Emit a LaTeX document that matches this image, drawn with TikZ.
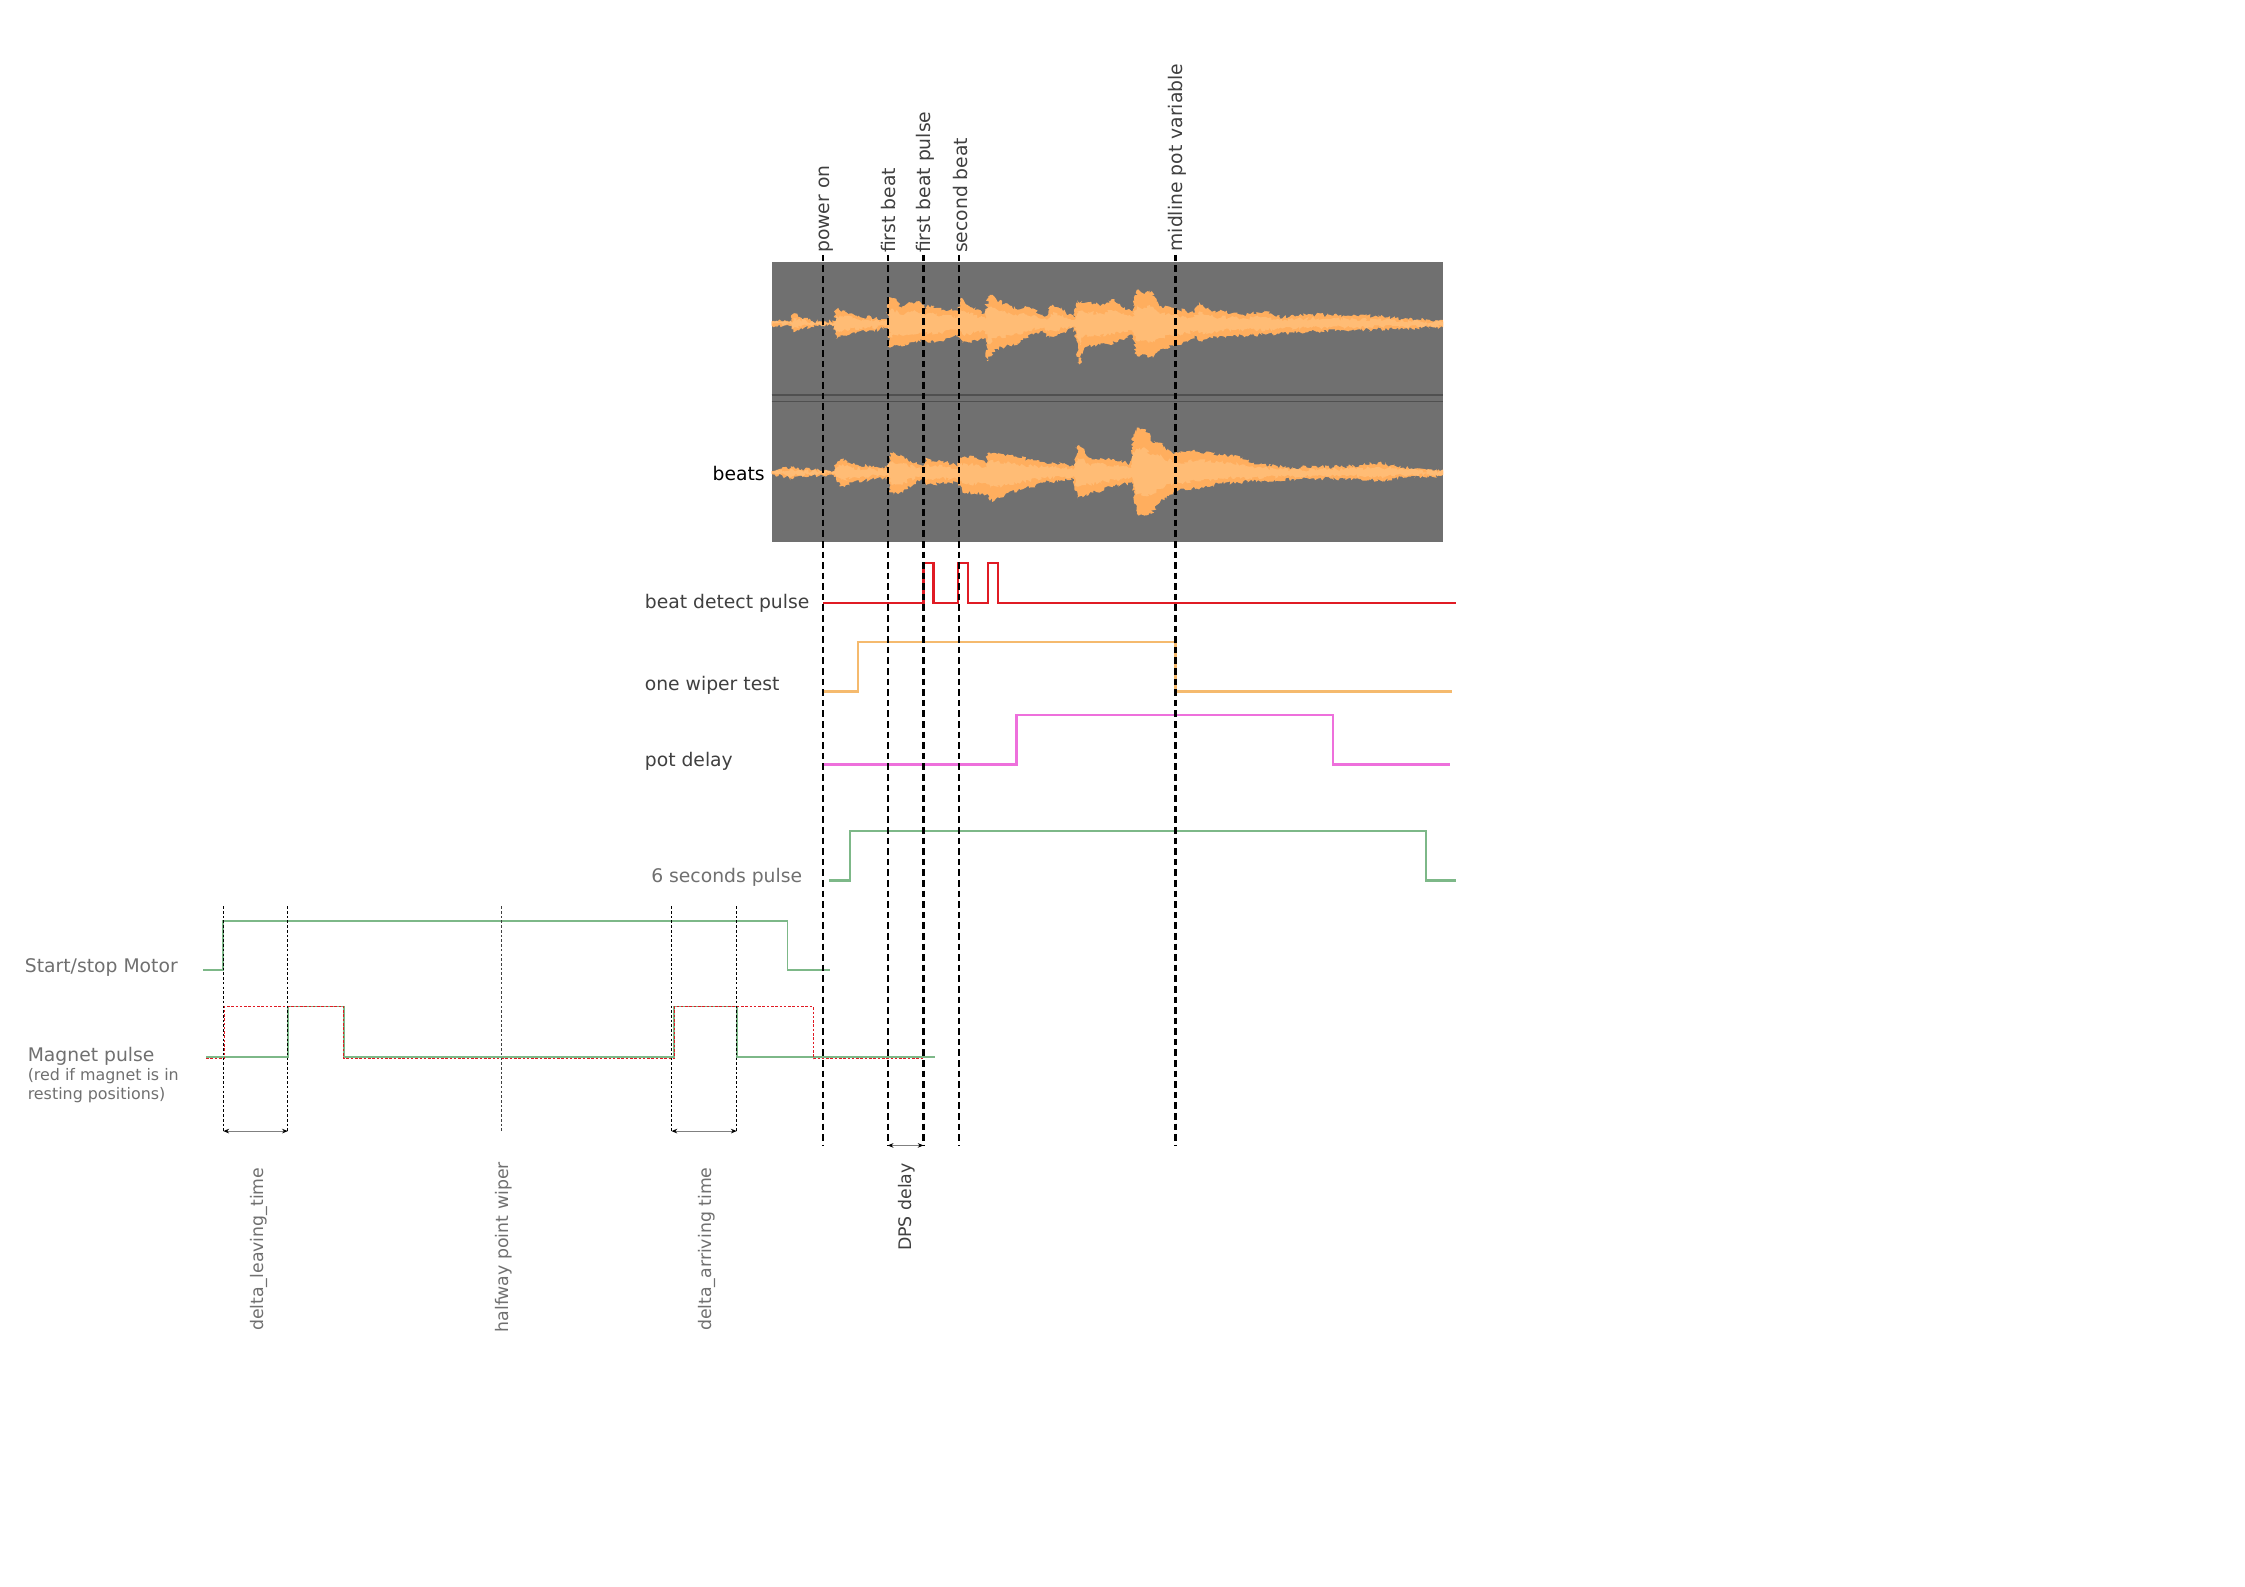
\documentclass[tikz,border=0pt]{standalone}
\usepackage{fontspec}
\setmainfont{DejaVu Sans}
\usetikzlibrary{arrows.meta,decorations.pathmorphing}
\definecolor{wavebg}{HTML}{707070}
\definecolor{waveline}{HTML}{505050}
\definecolor{waveout}{HTML}{FFAE5E}
\definecolor{wavein}{HTML}{FFBC75}
\definecolor{sigred}{HTML}{E01B24}
\definecolor{sigorange}{HTML}{F5BA6E}
\definecolor{sigpink}{HTML}{EE70DC}
\definecolor{siggreen}{HTML}{7DB888}
\definecolor{darktext}{HTML}{404040}
\definecolor{midtext}{HTML}{707070}
\tikzset{
  lab/.style={font=\fontsize{6.55pt}{8pt}\selectfont,inner sep=0pt,anchor=west,text=darktext},
  labgrey/.style={lab,text=midtext},
  smalllab/.style={labgrey,font=\fontsize{5.55pt}{7pt}\selectfont},
  vlab/.style={lab,rotate=90},
  vlabgrey/.style={labgrey,rotate=90,font=\fontsize{6.05pt}{8pt}\selectfont},
  vlabdps/.style={vlab,font=\fontsize{6.05pt}{8pt}\selectfont},
  eventline/.style={draw=black,line width=.75pt,dash pattern=on 2.3pt off 1.4pt},
  guideline/.style={draw=black,line width=.33pt,dash pattern=on .9pt off .75pt},
  sig/.style={line width=.78pt,line join=miter},
  thinsig/.style={draw=siggreen,line width=.65pt},
  reddash/.style={draw=sigred,line width=.35pt,dash pattern=on .9pt off .6pt},
  span/.style={draw=gray,line width=.4pt,{Stealth[length=2pt,width=1.6pt,black]}-{Stealth[length=2pt,width=1.6pt,black]}},
  wave/.style={decorate,decoration={random steps,segment length=.6pt,amplitude=.7pt}},
}
\newcommand{\waveA}{(25,-7)--(68,-7)--(72,-30)--(90,-17)--(110,-9)--(135,-5)--(162,-7)--(165,-42)--(180,-40)--(210,-24)--(278,-12)--(280,-80)--(290,-77)--(310,-47)--(330,-64)--(350,-62)--(358,-42)--(365,-57)--(395,-42)--(430,-37)--(435,-74)--(450,-57)--(490,-27)--(495,-82)--(505,-87)--(520,-67)--(560,-42)--(580,-52)--(610,-27)--(625,-24)--(632,-54)--(650,-47)--(683,-19)--(690,-70)--(705,-62)--(750,-57)--(765,-74)--(785,-52)--(810,-37)--(820,-102)--(835,-87)--(848,-102)--(870,-52)--(900,-47)--(945,-30)--(955,-65)--(980,-40)--(1050,-27)--(1100,-37)--(1130,-20)--(1200,-27)--(1280,-24)--(1340,-24)--(1400,-14)--(1487,-7)--(1487,10)--(1400,16)--(1300,18)--(1200,23)--(1100,33)--(1000,38)--(955,53)--(950,38)--(900,68)--(870,78)--(855,103)--(835,93)--(820,98)--(810,33)--(760,63)--(705,68)--(695,123)--(683,13)--(630,43)--(610,23)--(560,58)--(510,78)--(495,113)--(490,43)--(440,58)--(430,33)--(380,58)--(358,48)--(340,58)--(300,66)--(282,73)--(278,13)--(185,33)--(165,46)--(162,6)--(135,6)--(90,13)--(72,26)--(68,6)--(25,6)--cycle}
\newcommand{\waveB}{(25,-5)--(40,-10)--(70,-17)--(90,-10)--(135,-5)--(162,-5)--(165,-25)--(175,-40)--(200,-25)--(278,-12)--(282,-60)--(300,-50)--(355,-20)--(360,-42)--(430,-22)--(435,-45)--(470,-45)--(490,-30)--(497,-60)--(530,-55)--(560,-45)--(620,-30)--(683,-20)--(690,-80)--(700,-75)--(715,-45)--(770,-40)--(808,-25)--(812,-115)--(825,-135)--(840,-130)--(850,-95)--(870,-90)--(900,-55)--(950,-65)--(1000,-55)--(1050,-45)--(1070,-28)--(1150,-15)--(1280,-18)--(1345,-30)--(1400,-15)--(1487,-6)--(1487,10)--(1400,16)--(1345,25)--(1280,18)--(1200,18)--(1100,25)--(1000,33)--(950,48)--(900,58)--(870,90)--(850,125)--(820,125)--(810,30)--(770,42)--(700,70)--(690,78)--(683,20)--(620,30)--(560,55)--(500,85)--(495,65)--(440,60)--(430,30)--(360,35)--(350,20)--(300,65)--(282,60)--(278,15)--(200,30)--(175,42)--(165,20)--(162,5)--(80,12)--(70,20)--(40,8)--(25,5)--cycle}
\begin{document}
\begin{tikzpicture}[x=.5pt,y=-.5pt]
\pgfmathsetseed{7}
\useasboundingbox (0,0) rectangle (1568,1108.4);
\fill[white] (0,0) rectangle (1568,1108.4);
% waveform panel
\fill[wavebg] (539,183) rectangle (1008,378.5);
\begin{scope}
\clip (539,183) rectangle (1008,378.5);
\begin{scope}[shift={(531,226)},x=.1604pt,y=-.1158pt]
\fill[waveout,wave] \waveA;
\begin{scope}[yscale=.55]\fill[wavein,wave] \waveA;\end{scope}
\end{scope}
\begin{scope}[shift={(531,330)},x=.1604pt,y=-.1158pt]
\fill[waveout,wave] \waveB;
\begin{scope}[yscale=.55]\fill[wavein,wave] \waveB;\end{scope}
\end{scope}
\end{scope}
\draw[waveline,line width=.5pt] (539,276) -- (1008,276) (539,280.5) -- (1008,280.5);
% upper signals
\draw[sig,sigred] (575,421) -| (645,393) -| (652,421) -| (669,393) -| (676,421) -| (690,393) -| (697,421) -- (1017,421);
\draw[sig,sigorange] (575,483) -| (599,448.5) -| (821,483) -- (1014,483);
\draw[sig,sigpink] (575,534) -| (710,499.5) -| (931,534) -- (1013,534);
\draw[sig,siggreen] (579,615) -| (593.5,580.5) -| (996,615) -- (1017,615);
% lower signals
\draw[thinsig] (142,677.5) -| (156,643) -| (550,677.5) -- (580,677.5);
\draw[thinsig] (144,738.5) -| (201,703) -| (240,738.5) -| (471,703) -| (514.5,738.5) -- (653,738.5);
\draw[reddash] (144,739.5) -| (156.5,703) -| (240,739.5) -| (471,703) -| (568,739.5) -- (645,739.5);
% event lines
\coordinate (pt1) at (575,178);\coordinate (pb1) at (575,800);
\coordinate (pt2) at (620,178);\coordinate (pb2) at (620,800);
\coordinate (pt3) at (645,178);\coordinate (pb3) at (645,800);
\coordinate (pt4) at (669.5,178);\coordinate (pb4) at (669.5,800);
\coordinate (pt5) at (821,178);\coordinate (pb5) at (821,800);
\draw[eventline] (pt1) -- (pb1);
\draw[eventline] (pt2) -- (pb2);
\draw[eventline] (pt3) -- (pb3);
\draw[eventline] (pt4) -- (pb4);
\draw[eventline] (pt5) -- (pb5);
% guide lines
\coordinate (gt1) at (156,633);\coordinate (gb1) at (156,790);
\coordinate (gt2) at (201,633);\coordinate (gb2) at (201,790);
\coordinate (gt3) at (350,633);\coordinate (gb3) at (350,790);
\coordinate (gt4) at (469,633);\coordinate (gb4) at (469,790);
\coordinate (gt5) at (514.5,633);\coordinate (gb5) at (514.5,790);
\draw[guideline] (gt1) -- (gb1);
\draw[guideline] (gt2) -- (gb2);
\draw[guideline,draw=darktext] (gt3) -- (gb3);
\draw[guideline] (gt4) -- (gb4);
\draw[guideline] (gt5) -- (gb5);
\draw[span] (gb1) -- (gb2);
\draw[span] (gb4) -- (gb5);
\draw[span,line width=.3pt] (pb2) -- (pb3);
% labels
\node[vlab] (lpower) at (577,177) {power on};
\node[vlab] (lfirst) at (620.5,177) {first beat};
\node[vlab] (lfpulse) at (646,177) {first beat pulse};
\node[vlab] (lsecond) at (670.5,177) {second beat};
\node[vlab] (lmid) at (822,176) {midline pot variable};
\node[lab,anchor=east,text=black] (lbeats) at (534.5,330.5) {beats};
\node[lab] (lbdp) at (450,421.5) {beat detect pulse};
\node[lab] (lowt) at (450,478.5) {one wiper test};
\node[lab] (lpot) at (450,532) {pot delay};
\node[labgrey] (lsix) at (454.5,613) {6 seconds pulse};
\node[labgrey] (lmotor) at (17,676) {Start/stop Motor};
\node[labgrey] (lmag) at (19,737.5) {Magnet pulse};
\node[smalllab] (lred) at (19,751.5) {(red if magnet is in};
\node[smalllab] (lrest) at (19,765) {resting positions)};
\node[vlabgrey] (ldl) at (181,930) {delta\_leaving\_time};
\node[vlabgrey] (lhw) at (351.5,931) {halfway point wiper};
\node[vlabgrey] (lda) at (494,930) {delta\_arriving time};
\node[vlabdps] (ldps) at (633,874) {DPS delay};
\end{tikzpicture}
\end{document}
